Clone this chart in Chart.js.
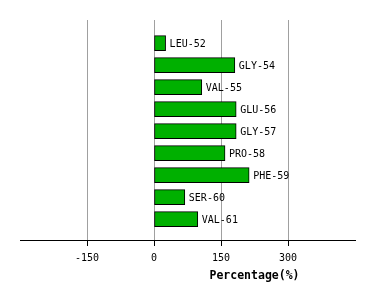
<!DOCTYPE html>
<html>
<head>
<meta charset="utf-8">
<script src="https://cdn.jsdelivr.net/npm/chart.js@4/dist/chart.umd.min.js"></script>
<style>
  html, body { margin: 0; padding: 0; background: #fff; }
  #wrap { width: 374px; height: 300px; }
</style>
</head>
<body>
<div id="wrap"><canvas id="grafico"></canvas></div>
<script>
const residuos = ["LEU-52", "GLY-54", "VAL-55", "GLU-56", "GLY-57", "PRO-58", "PHE-59", "SER-60", "VAL-61"];
const porcentajes = [26, 181, 107, 184, 184, 159, 213, 69, 98];
const marcas_x = [-150, 0, 150, 300];

const fuente = "'DejaVu Sans Mono', monospace";

// etiquetas a la derecha de cada barra y titulo del eje
const plugin_etiquetas = {
  id: "etiquetas",
  afterDatasetsDraw: (chart) => {
    const ctx = chart.ctx;
    const meta = chart.getDatasetMeta(0);
    ctx.save();
    ctx.fillStyle = "#000";
    ctx.font = "10px " + fuente;
    ctx.textAlign = "left";
    ctx.textBaseline = "middle";
    meta.data.forEach((bar, i) => {
      ctx.fillText(residuos[i], bar.x + 4, bar.y + 1);
    });
    const area = chart.chartArea;
    ctx.font = "bold 11.5px " + fuente;
    ctx.textAlign = "center";
    ctx.fillText("Percentage(%)", area.left + (area.right - area.left) * 0.7, 276);
    ctx.restore();
  },
};

const datos = porcentajes.map((v, i) => ({ x: v, y: i }));

new Chart(document.getElementById("grafico").getContext("2d"), {
  type: "bar",
  data: {
    datasets: [
      {
        data: datos,
        backgroundColor: "#00b000",
        borderColor: "#000",
        borderWidth: 1,
        borderSkipped: false,
        barThickness: 15,
      },
    ],
  },
  options: {
    indexAxis: "y",
    responsive: true,
    maintainAspectRatio: false,
    animation: false,
    layout: { padding: { left: 20, right: 19, top: 20, bottom: 0 } },
    plugins: {
      legend: { display: false },
      tooltip: { enabled: false },
    },
    scales: {
      x: {
        type: "linear",
        min: -300,
        max: 450,
        afterBuildTicks: (scale) => {
          scale.ticks = marcas_x.map((v) => ({ value: v }));
        },
        afterFit: (scale) => {
          scale.height = 60;
        },
        grid: {
          color: "#a0a0a0",
          tickColor: "#000",
          tickLength: 6,
          lineWidth: 1,
        },
        border: { display: true, color: "#000", width: 1 },
        ticks: {
          color: "#000",
          font: { family: fuente, size: 10 },
          padding: 6,
          maxRotation: 0,
        },
      },
      y: {
        type: "linear",
        display: false,
        reverse: true,
        offset: false,
        grid: { offset: false },
        min: -1.05,
        max: 8.95,
      },
    },
  },
  plugins: [plugin_etiquetas],
});
</script>
</body>
</html>
